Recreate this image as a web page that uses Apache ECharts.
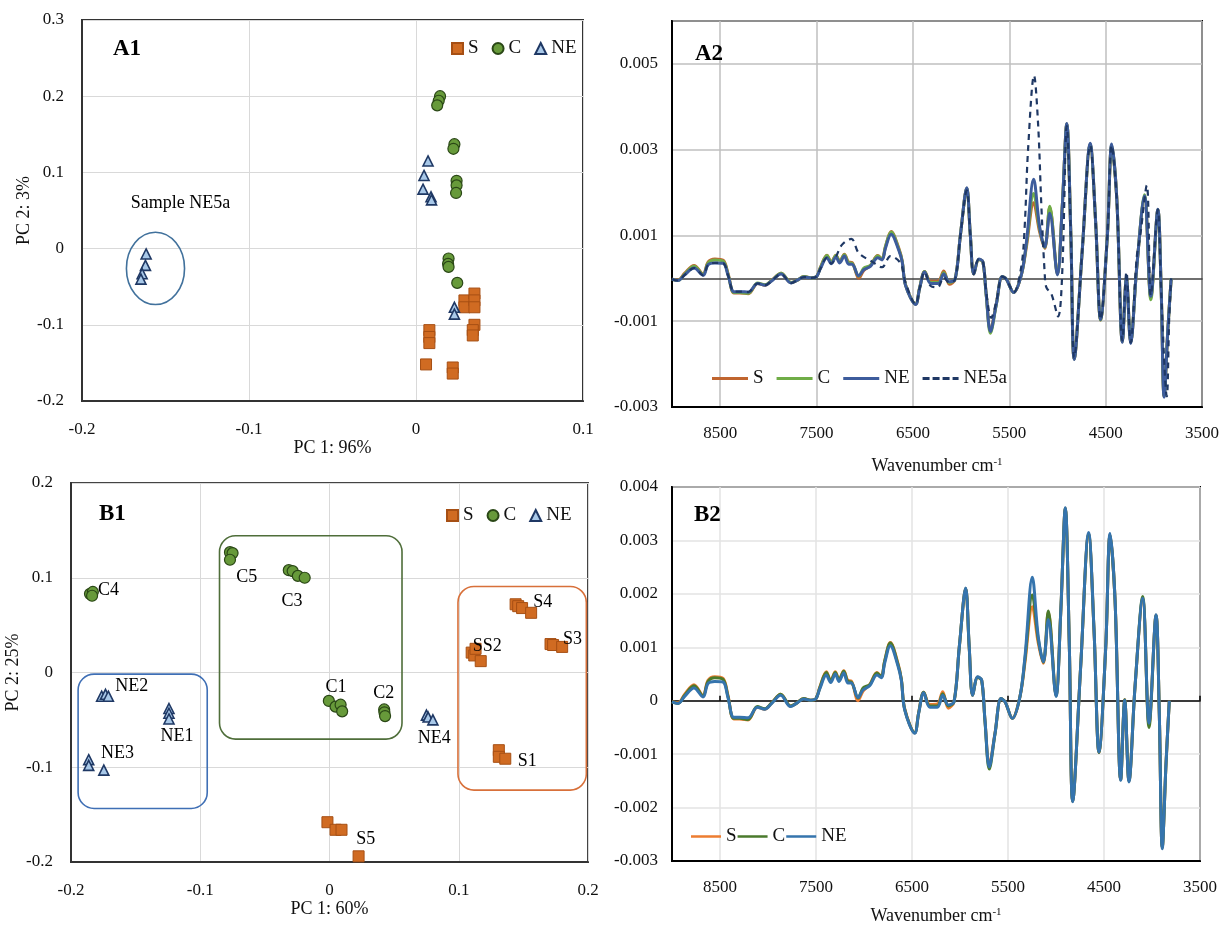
<!DOCTYPE html>
<html><head><meta charset="utf-8">
<script src="https://cdn.jsdelivr.net/npm/echarts@6/dist/echarts.min.js"></script>
<style>html,body{margin:0;padding:0;background:#fff}#c{width:1228px;height:928px}</style>
</head><body><div id="c"></div>
<script>
// ---------------- A1 : PCA scores ----------------
const a1S = [[0.029,-0.068],[0.029,-0.077],[0.035,-0.059],[0.035,-0.068],[0.035,-0.077],[0.035,-0.100],[0.034,-0.107],[0.034,-0.114],[0.008,-0.107],[0.008,-0.116],[0.008,-0.124],[0.006,-0.152],[0.022,-0.156],[0.022,-0.164]];
const a1C = [[0.0144,0.200],[0.0136,0.194],[0.0127,0.188],[0.023,0.137],[0.0224,0.131],[0.0243,0.089],[0.0243,0.083],[0.0240,0.073],[0.0195,-0.013],[0.0192,-0.020],[0.0195,-0.024],[0.0247,-0.045]];
const a1NE = [[0.0072,0.115],[0.0048,0.096],[0.0042,0.078],[0.0090,0.068],[0.0093,0.064],[0.023,-0.077],[0.023,-0.086],[-0.1616,-0.007],[-0.162,-0.022],[-0.164,-0.033],[-0.1647,-0.040]];
const a1Ellipse = [[-0.156,-0.026,0.0174,0.0474]];   // cx, cy, rx, ry
const a1Notes = [[-0.141,0.059,'Sample NE5a']];

// ---------------- B1 : PCA scores ----------------
const b1S = [[0.144,0.072],[0.146,0.070],[0.149,0.068],[0.156,0.063],[0.171,0.030],[0.173,0.029],[0.180,0.027],[0.110,0.021],[0.112,0.018],[0.117,0.012],[0.113,0.025],[0.131,-0.082],[0.131,-0.089],[0.136,-0.091],[-0.0016,-0.158],[0.0047,-0.166],[0.0093,-0.166],[0.0225,-0.194]];
const b1C = [[-0.1853,0.083],[-0.1831,0.085],[-0.1837,0.081],[-0.077,0.127],[-0.075,0.126],[-0.077,0.119],[-0.0315,0.108],[-0.0285,0.107],[-0.0245,0.102],[-0.0192,0.100],[-0.0005,-0.030],[0.0047,-0.036],[0.0086,-0.034],[0.0098,-0.041],[0.0423,-0.039],[0.0425,-0.042],[0.0430,-0.046]];
const b1NE = [[-0.1763,-0.025],[-0.1733,-0.023],[-0.1711,-0.025],[-0.1242,-0.038],[-0.1242,-0.043],[-0.1242,-0.049],[-0.1863,-0.092],[-0.1863,-0.098],[-0.1746,-0.103],[0.075,-0.045],[0.0763,-0.047],[0.080,-0.050]];
const b1Boxes = [[-0.1945,-0.0017,-0.0946,-0.1435,'NE'],[-0.0851,0.1443,0.0561,-0.0703,'C'],[0.0994,0.0908,0.1987,-0.1241,'S']]; // x0,y0,x1,y1
const b1Labels = [[-0.171,0.087,'C4'],[-0.064,0.100,'C5'],[-0.029,0.075,'C3'],[0.005,-0.016,'C1'],[0.042,-0.022,'C2'],[-0.153,-0.015,'NE2'],[-0.118,-0.067,'NE1'],[-0.164,-0.085,'NE3'],[0.081,-0.069,'NE4'],[0.165,0.074,'S4'],[0.188,0.035,'S3'],[0.122,0.028,'SS2'],[0.153,-0.094,'S1'],[0.028,-0.176,'S5']];

// ---------------- Spectra (A2, B2), y values in units of 0.001 ----------------
const wn = [9000,8937,8868,8771,8677,8625,8555,8469,8417,8357,8295,8208,8111,8034,7966,7868,7764,7705,7628,7555,7500,7461,7392,7347,7299,7260,7211,7167,7132,7062,7010,6941,6865,6820,6785,6726,6646,6611,6576,6472,6430,6378,6315,6236,6180,6122,6062,6007,5941,5904,5868,5816,5774,5740,5695,5635,5573,5531,5455,5375,5323,5247,5185,5132,5080,5000,4951,4903,4861,4826,4743,4660,4604,4552,4482,4437,4385,4326,4284,4240,4177,4097,4031,3958,3924,3893,3854,3820];
const specNE = [-0.02,-0.05,0.08,0.24,0.07,0.32,0.36,0.35,0.06,-0.31,-0.31,-0.32,-0.12,-0.16,-0.06,0.10,-0.11,-0.05,0.03,0.01,0.04,0.22,0.48,0.34,0.50,0.36,0.52,0.33,0.33,0.06,0.20,0.28,0.48,0.43,0.70,1.03,0.65,0.38,-0.17,-0.61,-0.23,0.15,-0.12,-0.12,0.10,-0.08,-0.02,1.01,2.11,1.01,0.10,0.45,0.39,-0.36,-1.24,-0.61,0.04,-0.02,-0.33,0.08,0.83,2.31,1.20,0.73,1.52,0.08,1.64,3.61,1.01,-1.89,0.64,3.15,1.33,-0.96,1.00,3.13,1.89,-1.49,0.01,-1.52,0.26,1.92,-0.42,1.61,-0.24,-2.77,-1.18,0.00];
const specS  = [-0.02,-0.04,0.12,0.30,0.10,0.38,0.45,0.42,0.10,-0.34,-0.34,-0.36,-0.12,-0.16,-0.05,0.12,-0.10,-0.05,0.04,0.01,0.04,0.25,0.54,0.38,0.54,0.40,0.56,0.38,0.37,0.00,0.18,0.30,0.53,0.45,0.74,1.09,0.70,0.40,-0.15,-0.60,-0.22,0.16,-0.07,-0.06,0.17,-0.14,-0.02,1.01,2.10,1.00,0.10,0.44,0.38,-0.36,-1.20,-0.60,0.04,-0.02,-0.33,0.08,0.72,1.76,1.08,0.70,1.66,0.10,1.64,3.60,1.01,-1.88,0.64,3.12,1.32,-0.97,1.00,3.10,1.88,-1.48,0.02,-1.50,0.26,1.90,-0.45,1.60,-0.24,-2.75,-1.18,0.00];
const specC  = [-0.02,-0.05,0.10,0.28,0.09,0.36,0.43,0.40,0.08,-0.33,-0.33,-0.35,-0.11,-0.15,-0.05,0.12,-0.10,-0.05,0.04,0.01,0.04,0.24,0.53,0.37,0.53,0.39,0.55,0.36,0.35,0.05,0.24,0.30,0.52,0.45,0.74,1.08,0.68,0.40,-0.16,-0.60,-0.22,0.16,-0.10,-0.10,0.13,-0.10,-0.02,1.01,2.10,1.00,0.10,0.44,0.38,-0.38,-1.28,-0.62,0.04,-0.02,-0.33,0.08,0.78,1.98,1.15,0.72,1.68,0.09,1.64,3.60,1.01,-1.88,0.64,3.12,1.32,-0.97,1.00,3.10,1.88,-1.48,0.02,-1.50,0.26,1.95,-0.50,1.60,-0.24,-2.75,-1.18,0.00];
const ne5aWn = [9000,8937,8868,8771,8677,8625,8555,8469,8417,8357,8295,8208,8111,8034,7966,7868,7764,7705,7628,7555,7500,7461,7392,7347,7299,7237,7139,7062,6924,6820,6733,6628,6576,6472,6430,6378,6315,6243,6180,6122,6062,6007,5941,5904,5868,5816,5774,5740,5687,5635,5573,5531,5455,5375,5340,5305,5243,5201,5167,5132,5115,5062,4993,4951,4903,4861,4826,4743,4660,4604,4552,4482,4437,4385,4326,4284,4240,4177,4142,4073,4031,3958,3924,3865,3840,3820];
const specNE5a = [-0.02,-0.05,0.08,0.24,0.07,0.32,0.36,0.35,0.06,-0.31,-0.31,-0.32,-0.12,-0.16,-0.06,0.10,-0.11,-0.05,0.03,0.01,0.04,0.22,0.48,0.34,0.50,0.78,0.92,0.59,0.39,0.26,0.52,0.35,-0.10,-0.60,-0.23,0.15,-0.18,-0.21,0.02,-0.10,-0.02,1.00,2.05,1.00,0.10,0.45,0.39,-0.30,-0.92,-0.55,0.04,-0.02,-0.33,0.28,1.21,3.00,4.73,3.60,1.69,0.10,-0.21,-0.37,-0.89,0.10,3.55,1.00,-1.85,0.64,3.10,1.30,-0.96,1.00,3.10,1.85,-1.45,0.15,-1.50,0.50,0.98,2.17,-0.40,1.60,-0.30,-2.75,-0.90,0.00];

// ---------------- tick settings ----------------
const pcTicksA1 = {xMin:-0.2,xMax:0.1,yMin:-0.2,yMax:0.3,step:0.1};
const pcTicksB1 = {xMin:-0.2,xMax:0.2,yMin:-0.2,yMax:0.2,step:0.1};
const wnTicks = {min:3500,max:9000,step:1000};
const a2Y = {min:-3,max:6,step:2};
const b2Y = {min:-3,max:4,step:1};

// ---------------- chart ----------------
const SERIF = '"Liberation Serif","DejaVu Serif",serif';
const TXT = '#111';
const fmtPC = v => String(+v.toFixed(3));
const fmtMilli = v => String(+(v/1000).toFixed(4));
const fmtWn = v => String(Math.round(v));
const stripName = n => n.replace(/^\w+ /,'');
const pairs = (xs, ys) => xs.map((x,i)=>[x, ys[i]]);

const colS='#d06b22', colSB='#a64f14', colC='#679a3a', colCB='#2a4716', colNE='#a8c8e8', colNEB='#1f3864';
const LINE_ICON = 'path://M0,0H36V3H0Z';
const DASH_ICON = 'path://M0,0H7V3H0Z M10,0H17V3H10Z M20,0H27V3H20Z M30,0H36V3H30Z';

function pcX(grid, t, name, gap){
  return {gridIndex:grid,type:'value',min:t.xMin,max:t.xMax,interval:t.step,
    name:name,nameLocation:'middle',nameGap:gap,nameTextStyle:{fontFamily:SERIF,fontSize:18,color:TXT},
    axisLine:{onZero:false,lineStyle:{color:'#333',width:2}},axisTick:{show:false},
    axisLabel:{formatter:fmtPC,fontFamily:SERIF,fontSize:17,color:TXT,margin:20},
    splitLine:{lineStyle:{color:'#d9d9d9',width:1}}};
}
function pcY(grid, t, name, gap){
  return {gridIndex:grid,type:'value',min:t.yMin,max:t.yMax,interval:t.step,
    name:name,nameLocation:'middle',nameGap:gap,nameTextStyle:{fontFamily:SERIF,fontSize:18,color:TXT},
    axisLine:{onZero:false,lineStyle:{color:'#333',width:2}},axisTick:{show:false},
    axisLabel:{formatter:fmtPC,fontFamily:SERIF,fontSize:17,color:TXT,margin:18},
    splitLine:{lineStyle:{color:'#d9d9d9',width:1}}};
}
function wnX(grid, gridColor, gap){
  return {gridIndex:grid,type:'value',inverse:true,min:wnTicks.min,max:wnTicks.max,interval:wnTicks.step,
    name:'Wavenumber cm{sup|-1}',nameLocation:'middle',nameGap:gap,
    nameTextStyle:{fontFamily:SERIF,fontSize:18,color:TXT,rich:{sup:{fontFamily:SERIF,fontSize:11,color:TXT,verticalAlign:'top',padding:[0,0,8,0]}}},
    axisLine:{onZero:false,lineStyle:{color:'#000',width:2}},axisTick:{show:false},
    axisLabel:{showMaxLabel:false,formatter:fmtWn,fontFamily:SERIF,fontSize:17,color:TXT,margin:18},
    splitLine:{lineStyle:{color:gridColor,width:1.5}}};
}
function zeroX(grid, color, ticks){
  return {gridIndex:grid,type:'value',inverse:true,min:wnTicks.min,max:wnTicks.max,interval:wnTicks.step,
    axisLine:{onZero:true,lineStyle:{color:color,width:1.6}},
    axisTick:{show:ticks,length:5,inside:false,lineStyle:{color:'#000',width:1.5}},
    axisLabel:{show:false},splitLine:{show:false}};
}
function spY(grid, t, gridColor){
  return {gridIndex:grid,type:'value',min:t.min,max:t.max,interval:t.step,
    axisLine:{onZero:false,lineStyle:{color:'#000',width:2}},axisTick:{show:false},
    axisLabel:{showMaxLabel:t.max===4,formatter:fmtMilli,fontFamily:SERIF,fontSize:17,color:TXT,margin:14},
    splitLine:{lineStyle:{color:gridColor,width:1.5}}};
}
function scat(name, xi, data, symbol, size, fill, border, bw){
  return {name:name,type:'scatter',xAxisIndex:xi,yAxisIndex:xi,data:data,symbol:symbol,symbolSize:size,
    itemStyle:{color:fill,borderColor:border,borderWidth:bw,opacity:1},z:5};
}
function lineS(name, xi, yi, data, color, width, dashed){
  return {name:name,type:'line',xAxisIndex:xi,yAxisIndex:yi,data:data,symbol:'none',smooth:0.35,
    lineStyle:{color:color,width:width,type:dashed?[6,5]:'solid'},itemStyle:{color:color},z:3};
}
function labels(xi, data, size){
  return {type:'scatter',xAxisIndex:xi,yAxisIndex:xi,data:data,symbolSize:1,itemStyle:{color:'rgba(0,0,0,0)',opacity:1},silent:true,z:6,
    label:{show:true,position:'inside',formatter:p=>p.data[2],fontFamily:SERIF,fontSize:size,color:'#000',opacity:1}};
}
const legendBase = {orient:'horizontal',formatter:stripName,textStyle:{fontFamily:SERIF,fontSize:19,color:TXT},selectedMode:false};

const option = {
  animation:false,
  backgroundColor:'#fff',
  title:[
    {text:'A1',left:108,top:33,textStyle:{fontFamily:SERIF,fontSize:23,fontWeight:'bold',color:'#000'}},
    {text:'A2',left:690,top:38,textStyle:{fontFamily:SERIF,fontSize:23,fontWeight:'bold',color:'#000'}},
    {text:'B1',left:94,top:498,textStyle:{fontFamily:SERIF,fontSize:23,fontWeight:'bold',color:'#000'}},
    {text:'B2',left:689,top:499,textStyle:{fontFamily:SERIF,fontSize:23,fontWeight:'bold',color:'#000'}}
  ],
  grid:[
    {left:82,top:20,width:501,height:381,show:true,borderColor:'#333',borderWidth:2,backgroundColor:'transparent'},
    {left:672,top:21,width:530,height:386,show:true,borderColor:'#000',borderWidth:2,backgroundColor:'transparent'},
    {left:71,top:483,width:517,height:379,show:true,borderColor:'#444',borderWidth:2,backgroundColor:'transparent'},
    {left:672,top:487,width:528,height:374,show:true,borderColor:'#000',borderWidth:2,backgroundColor:'transparent'}
  ],
  xAxis:[
    pcX(0,pcTicksA1,'PC 1: 96%',30),
    wnX(1,'#bfbfbf',50),
    pcX(2,pcTicksB1,'PC 1: 60%',32),
    wnX(3,'#e3e3e3',46),
    zeroX(1,'#404040',false),
    zeroX(3,'#000',true)
  ],
  yAxis:[
    pcY(0,pcTicksA1,'PC 2: 3%',48),
    spY(1,a2Y,'#bfbfbf'),
    pcY(2,pcTicksB1,'PC 2: 25%',42),
    spY(3,b2Y,'#e3e3e3')
  ],
  legend:[
    Object.assign({},legendBase,{data:['A1 S','A1 C','A1 NE'],left:446,top:34,itemWidth:11,itemHeight:11,itemGap:13}),
    Object.assign({},legendBase,{data:[{name:'A2 S',icon:LINE_ICON},{name:'A2 C',icon:LINE_ICON},{name:'A2 NE',icon:LINE_ICON},{name:'A2 NE5a',icon:DASH_ICON}],
      left:707,top:364,itemWidth:36,itemHeight:3,itemGap:13}),
    Object.assign({},legendBase,{data:['B1 S','B1 C','B1 NE'],left:441,top:501,itemWidth:11,itemHeight:11,itemGap:13}),
    Object.assign({},legendBase,{data:[{name:'B2 S',icon:LINE_ICON},{name:'B2 C',icon:LINE_ICON},{name:'B2 NE',icon:LINE_ICON}],
      left:686,top:822,itemWidth:30,itemHeight:3,itemGap:1})
  ],
  series:[
    // A1
    {type:'custom',xAxisIndex:0,yAxisIndex:0,data:a1Ellipse,silent:true,z:2,
      renderItem:(params,api)=>{const c=api.coord([api.value(0),api.value(1)]);const s=api.size([api.value(2),api.value(3)]);
        return {type:'ellipse',shape:{cx:c[0],cy:c[1],rx:s[0],ry:s[1]},style:{fill:'none',stroke:'#41719c',lineWidth:1.6}};}},
    scat('A1 S',0,a1S,'rect',11,colS,colSB,1),
    scat('A1 C',0,a1C,'circle',11,colC,colCB,1.2),
    scat('A1 NE',0,a1NE,'triangle',10,colNE,colNEB,1.6),
    labels(0,a1Notes,18),
    // A2
    lineS('A2 S',1,1,pairs(wn,specS),'#c0652f',3,false),
    lineS('A2 C',1,1,pairs(wn,specC),'#70ad47',3,false),
    lineS('A2 NE',1,1,pairs(wn,specNE),'#3d5c9c',3,false),
    lineS('A2 NE5a',1,1,pairs(ne5aWn,specNE5a),'#1f3864',2.2,true),
    // B1
    {type:'custom',xAxisIndex:2,yAxisIndex:2,data:b1Boxes,silent:true,z:2,
      renderItem:(params,api)=>{const p0=api.coord([api.value(0),api.value(1)]);const p1=api.coord([api.value(2),api.value(3)]);
        const col={NE:'#3f6fb5',C:'#4f6e3a',S:'#d8703a'}[b1Boxes[params.dataIndex][4]];
        return {type:'rect',shape:{x:p0[0],y:p0[1],width:p1[0]-p0[0],height:p1[1]-p0[1],r:16},style:{fill:'none',stroke:col,lineWidth:1.6}};}},
    scat('B1 S',2,b1S,'rect',11,colS,colSB,1),
    scat('B1 C',2,b1C,'circle',11,colC,colCB,1.2),
    scat('B1 NE',2,b1NE,'triangle',10,colNE,colNEB,1.6),
    labels(2,b1Labels,18),
    // B2
    lineS('B2 S',3,3,pairs(wn,specS),'#ed7d31',3,false),
    lineS('B2 C',3,3,pairs(wn,specC),'#4a7a2c',3,false),
    lineS('B2 NE',3,3,pairs(wn,specNE),'#3574ad',3,false)
  ]
};
const chart = echarts.init(document.getElementById('c'));
chart.setOption(option);
</script></body></html>
